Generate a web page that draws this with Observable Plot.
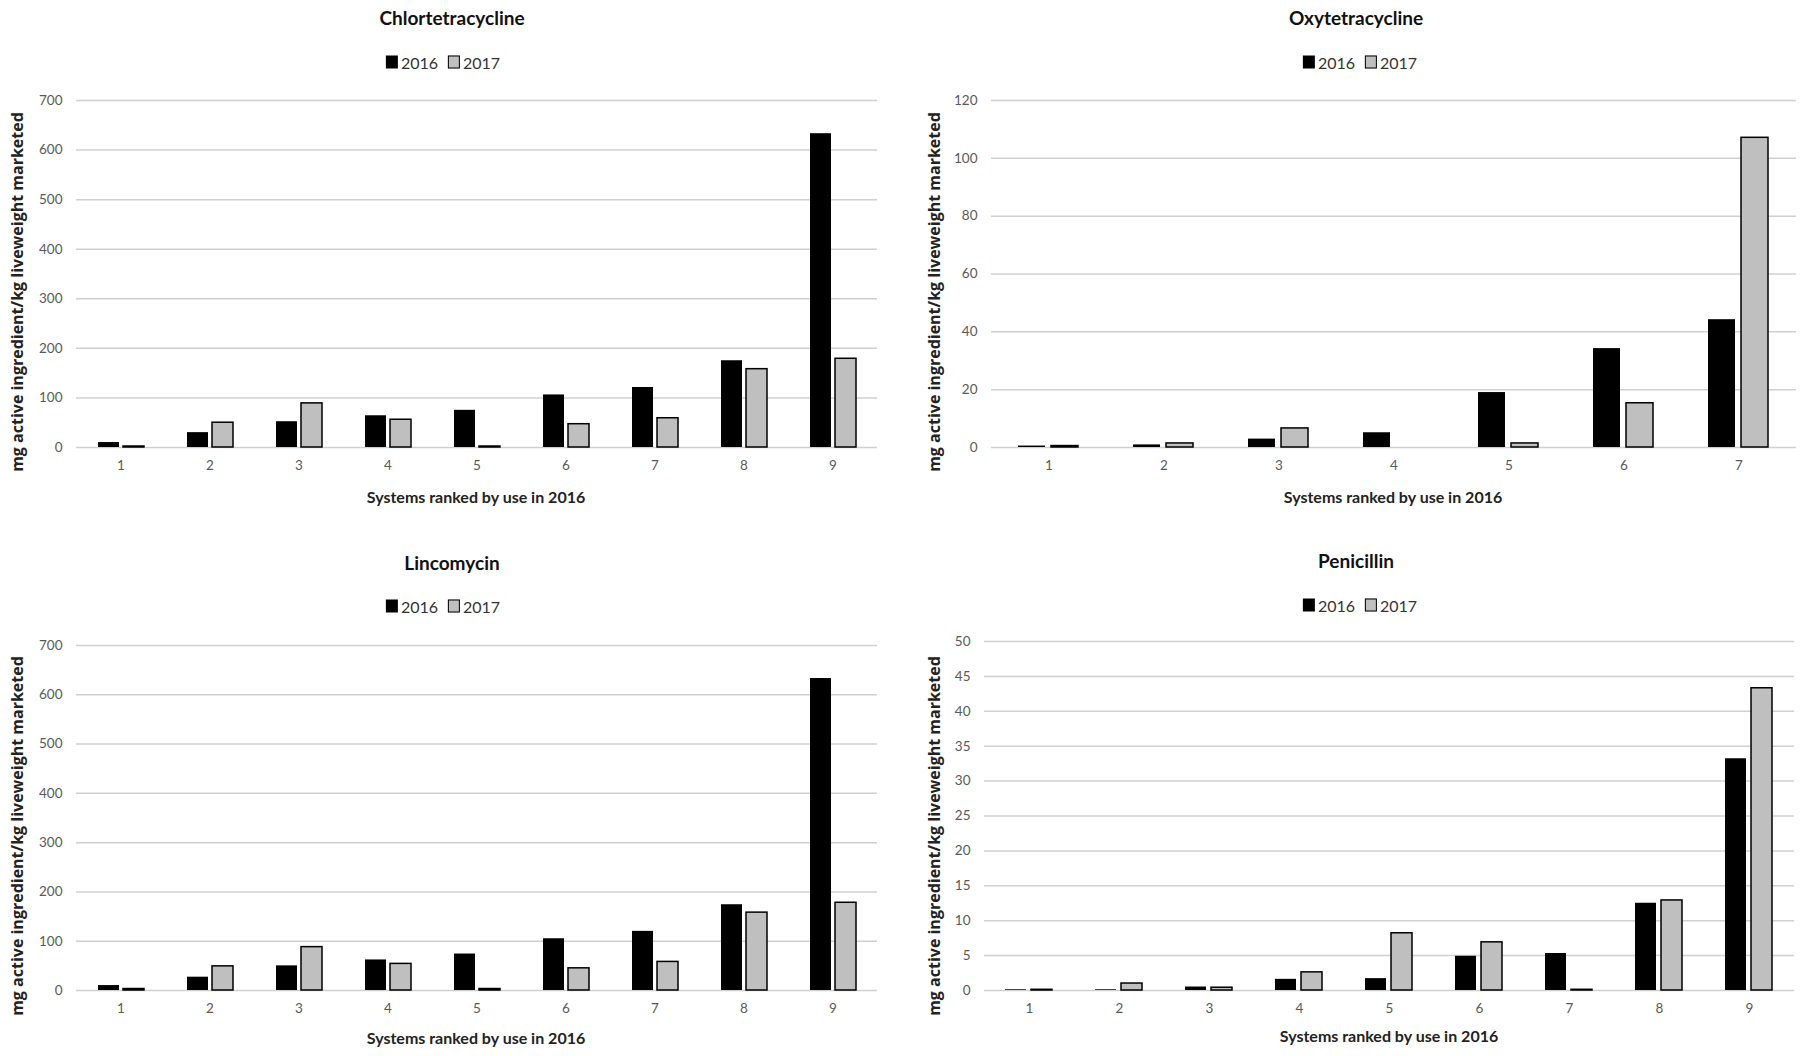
<!DOCTYPE html>
<html><head><meta charset="utf-8">
<script src="https://cdn.jsdelivr.net/npm/d3@7"></script>
<script src="https://cdn.jsdelivr.net/npm/@observablehq/plot@0.6"></script>
<style>
body{margin:0;background:#fff;width:1800px;height:1056px;position:relative;overflow:hidden;font-family:Lato,sans-serif;}
.abs{position:absolute;}
.title{font-weight:bold;font-size:19px;color:#111;transform:translate(-50%,-50%);white-space:nowrap;}
.legend{transform:translate(-50%,-50%);white-space:nowrap;display:flex;align-items:center;font-size:16px;color:#333;}
.sw{display:inline-block;width:12px;height:13px;margin-right:3px;box-sizing:border-box;}
.xt{font-weight:bold;font-size:16px;color:#222;transform:translate(-50%,-50%);white-space:nowrap;}
.yt{font-family:"Open Sans",sans-serif;font-weight:bold;font-size:16px;color:#222;transform:translate(-50%,-50%) rotate(-90deg);white-space:nowrap;}
</style>
</head><body>
<script>
const years = ["2016", "2017"];
const systems9 = [1, 2, 3, 4, 5, 6, 7, 8, 9];
const systems7 = [1, 2, 3, 4, 5, 6, 7];

const chlortetracycline2016 = [10, 30, 52, 64, 75, 106, 121, 175, 633];
const chlortetracycline2017 = [2, 50, 89, 56, 2, 47, 59, 158, 179];
const oxytetracycline2016 = [0.5, 0.9, 2.9, 5.1, 19, 34.2, 44.2];
const oxytetracycline2017 = [0.5, 1.4, 6.6, 0, 1.4, 15.3, 107.1];
const lincomycin2016 = [10, 27, 50, 62, 74, 105, 120, 174, 633];
const lincomycin2017 = [3, 49, 88, 54, 3, 45, 58, 158, 178];
const penicillin2016 = [0.1, 0.1, 0.5, 1.6, 1.7, 4.9, 5.3, 12.5, 33.2];
const penicillin2017 = [0.1, 1.0, 0.4, 2.6, 8.2, 6.9, 0.1, 12.9, 43.3];

const ticks700 = [0, 100, 200, 300, 400, 500, 600, 700];
const ticks120 = [0, 20, 40, 60, 80, 100, 120];
const ticks50 = [0, 5, 10, 15, 20, 25, 30, 35, 40, 45, 50];

const panelTitles = ["Chlortetracycline", "Oxytetracycline", "Lincomycin", "Penicillin"];
const xTitle = "Systems ranked by use in 2016";
const yTitle = "mg active ingredient/kg liveweight marketed";

function rows(systems, v16, v17) {
  const out = [];
  systems.forEach((s, i) => {
    out.push({system: s, year: "2016", value: v16[i]});
    out.push({system: s, year: "2017", value: v17[i]});
  });
  return out;
}

function panel(cfg) {
  const data = rows(cfg.systems, cfg.v16, cfg.v17);
  const chart = Plot.plot({
    width: cfg.width, height: cfg.height,
    marginLeft: cfg.ml, marginRight: cfg.mr, marginTop: cfg.mt, marginBottom: cfg.mb,
    style: {fontFamily: "Lato, sans-serif", fontSize: "13.5px", color: "#595959", background: "transparent", overflow: "visible"},
    fx: {domain: cfg.systems, padding: 0, label: null},
    x: {domain: years, paddingInner: 0.18, paddingOuter: 0.82, axis: null},
    y: {domain: [0, cfg.ticks[cfg.ticks.length - 1]], label: null},
    marks: [
      Plot.gridY(cfg.ticks, {stroke: "#d0d0d0", strokeOpacity: 1, strokeWidth: 1.5}),
      Plot.axisY(cfg.ticks, {tickSize: 0, tickPadding: 14, label: null}),
      Plot.axisFx({anchor: "bottom", tickSize: 0, tickPadding: 13, label: null}),
      Plot.barY(data.filter(d => d.year === "2016" && d.value > 0), {fx: "system", x: "year", y: "value", fill: "#000"}),
      Plot.barY(data.filter(d => d.year === "2017" && d.value > 0), {fx: "system", x: "year", y: "value", fill: "#bfbfbf", stroke: "#000", strokeWidth: 1.5})
    ]
  });
  chart.style.position = "absolute";
  chart.style.left = cfg.left + "px";
  chart.style.top = cfg.top + "px";
  document.body.appendChild(chart);
}

function addDiv(cls, text, x, y) {
  const d = document.createElement("div");
  d.className = "abs " + cls;
  d.style.left = x + "px";
  d.style.top = y + "px";
  d.textContent = text;
  document.body.appendChild(d);
  return d;
}
function addLegend(x, y) {
  const d = document.createElement("div");
  d.className = "abs legend";
  d.style.left = x + "px";
  d.style.top = y + "px";
  d.innerHTML = '<span class="sw" style="background:#000"></span><span>' + years[0] +
    '</span><span style="width:10px"></span><span class="sw" style="background:#bfbfbf;border:1.5px solid #000"></span><span>' + years[1] + '</span>';
  document.body.appendChild(d);
}

panel({left: 0, top: 90, width: 890, height: 430, ml: 72, mr: 10, mt: 10, mb: 73,
  systems: systems9, v16: chlortetracycline2016, v17: chlortetracycline2017, ticks: ticks700});
panel({left: 900, top: 90, width: 900, height: 430, ml: 90, mr: 3, mt: 10, mb: 73,
  systems: systems7, v16: oxytetracycline2016, v17: oxytetracycline2017, ticks: ticks120});
panel({left: 0, top: 635, width: 890, height: 430, ml: 72, mr: 10, mt: 10, mb: 75,
  systems: systems9, v16: lincomycin2016, v17: lincomycin2017, ticks: ticks700});
panel({left: 900, top: 631, width: 900, height: 430, ml: 81, mr: 4, mt: 10, mb: 71,
  systems: systems9, v16: penicillin2016, v17: penicillin2017, ticks: ticks50});

addDiv("title", panelTitles[0], 452, 17);
addDiv("title", panelTitles[1], 1356, 17);
addDiv("title", panelTitles[2], 452, 562);
addDiv("title", panelTitles[3], 1356, 560);
addLegend(443, 62);
addLegend(1360, 62);
addLegend(443, 606);
addLegend(1360, 605);
addDiv("xt", xTitle, 476, 496);
addDiv("xt", xTitle, 1393, 496);
addDiv("xt", xTitle, 476, 1037);
addDiv("xt", xTitle, 1389, 1035);
addDiv("yt", yTitle, 17, 292);
addDiv("yt", yTitle, 934, 292);
addDiv("yt", yTitle, 17, 836);
addDiv("yt", yTitle, 934, 836);
</script>
</body></html>
